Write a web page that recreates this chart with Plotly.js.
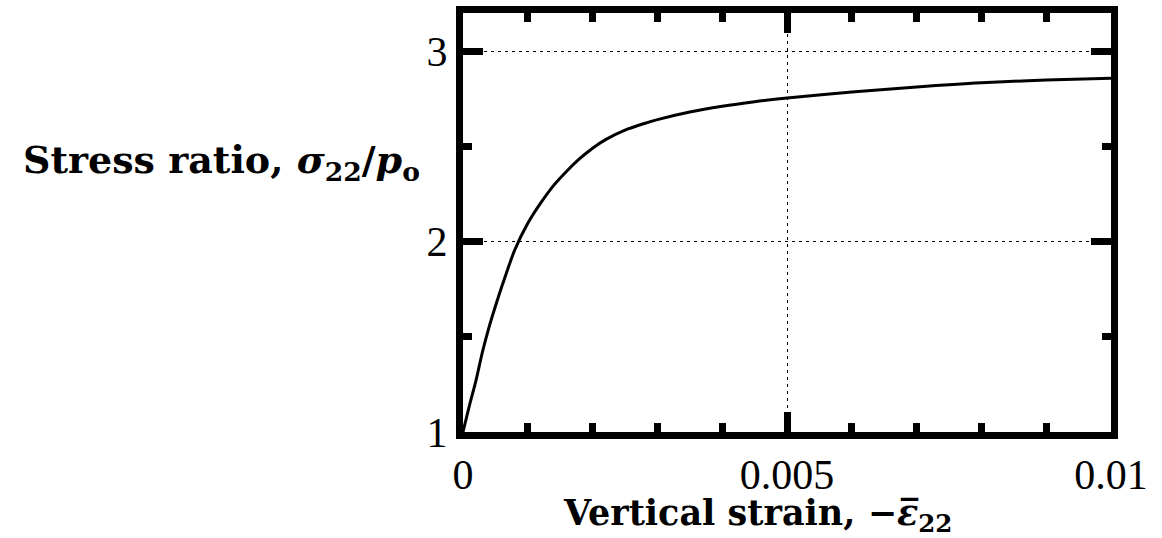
<!DOCTYPE html>
<html>
<head>
<meta charset="utf-8">
<script src="https://cdn.plot.ly/plotly-3.0.1.min.js"></script>
<style>html,body{margin:0;padding:0;background:#fff;}#chart{width:1162px;height:538px;}</style>
</head>
<body>
<div id="chart"></div>
<script>
// Data
const strain = [0, 0.0001, 0.0002, 0.0003, 0.0004, 0.0005, 0.0006, 0.0008, 0.001, 0.0012, 0.0014, 0.0016, 0.0018, 0.002, 0.0022, 0.0025, 0.0028, 0.003, 0.0035, 0.004, 0.0045, 0.005, 0.006, 0.007, 0.008, 0.009, 0.01];
const stressRatio = [1, 1.14, 1.27, 1.42, 1.548, 1.66, 1.765, 1.957, 2.096, 2.203, 2.295, 2.369, 2.435, 2.49, 2.535, 2.585, 2.62, 2.64, 2.68, 2.71, 2.734, 2.754, 2.785, 2.812, 2.834, 2.848, 2.858];
const xTickVals = [0, 0.005, 0.01];
const xTickText = ['0', '0.005', '0.01'];
const yTickVals = [1, 2, 3];
const yTickText = ['1', '2', '3'];
const xTitle = '<b>Vertical strain, −<i>ε\u0305</i><sub>22</sub></b>';
const yTitle = '<b>Stress ratio, <i>σ</i><sub>22</sub>/<i>p</i><sub>o</sub></b>';

const serif = 'Liberation Serif, DejaVu Serif, serif';
const titleSerif = 'DejaVu Serif, serif';

const trace = {
  x: strain, y: stressRatio, type: 'scatter', mode: 'lines',
  line: {color: '#000', width: 3, shape: 'spline', smoothing: 0.8},
  hoverinfo: 'skip', showlegend: false
};

const axisCommon = {
  showline: true, linecolor: '#000', linewidth: 7, mirror: 'ticks',
  ticks: 'inside', ticklen: 20, tickwidth: 7, tickcolor: '#000',
  showgrid: true, gridcolor: '#000', gridwidth: 1, griddash: '3px,4px',
  zeroline: false, tickfont: {family: serif, size: 42, color: '#000'},
  tickmode: 'array', fixedrange: true
};

const layout = {
  width: 1162, height: 538,
  margin: {l: 463, r: 51, t: 13, b: 106, pad: 0},
  paper_bgcolor: '#fff', plot_bgcolor: '#fff',
  xaxis: Object.assign({}, axisCommon, {
    range: [0, 0.01], tickvals: xTickVals, ticktext: xTickText,
    minor: {dtick: 0.001, tick0: 0, ticks: 'inside', ticklen: 9, tickwidth: 7, tickcolor: '#000', showgrid: false}
  }),
  yaxis: Object.assign({}, axisCommon, {
    range: [1, 3.2], tickvals: yTickVals, ticktext: yTickText,
    minor: {dtick: 0.5, tick0: 1, ticks: 'inside', ticklen: 9, tickwidth: 7, tickcolor: '#000', showgrid: false}
  }),
  annotations: [
    {text: yTitle, xref: 'paper', yref: 'paper', x: -0.063, y: 0.645, xanchor: 'right', yanchor: 'middle',
     showarrow: false, font: {family: titleSerif, size: 38, color: '#000'}},
    {text: xTitle, xref: 'paper', yref: 'paper', x: 0.455, y: -0.197, xanchor: 'center', yanchor: 'middle',
     showarrow: false, font: {family: titleSerif, size: 35, color: '#000'}}
  ]
};

Plotly.newPlot('chart', [trace], layout, {staticPlot: true, displayModeBar: false});
</script>
</body>
</html>
